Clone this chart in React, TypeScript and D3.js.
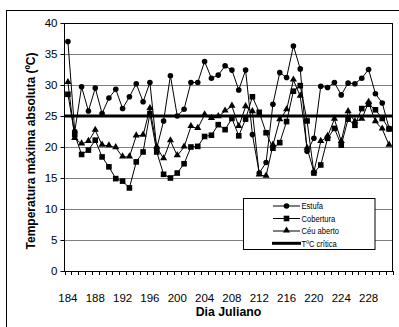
import React from "react";
import * as d3 from "d3";

const days: number[] = d3.range(184, 232);
const tickLabels: number[] = [184, 188, 192, 196, 200, 204, 208, 212, 216, 220, 224, 228];
const yTicks: number[] = [0, 5, 10, 15, 20, 25, 30, 35, 40];
const criticalTemp = 25;

const estufa: number[] = [
  37.0, 22.5, 29.7, 25.8, 29.5, 25.4, 27.9, 29.3, 26.2, 28.1, 30.2, 27.3,
  30.4, 19.8, 24.2, 31.5, 25.0, 26.1, 30.4, 30.4, 33.8, 31.1, 31.6, 33.1,
  32.4, 29.2, 32.4, 22.0, 15.8, 17.5, 26.9, 32.0, 31.2, 36.3, 32.6, 19.3,
  21.4, 29.8, 29.6, 30.4, 28.4, 30.3, 30.2, 31.1, 32.5, 28.6, 27.1, 23.0,
];
const cobertura: number[] = [
  28.5, 22.0, 18.8, 19.5, 21.1, 18.4, 16.8, 14.9, 14.5, 13.4, 17.6, 19.2,
  25.4, 19.2, 15.6, 15.0, 15.8, 17.3, 20.0, 20.1, 21.7, 21.9, 23.6, 22.8,
  24.6, 21.8, 24.5, 28.1, 25.6, 22.3, 19.8, 20.7, 24.1, 29.0, 29.9, 24.2,
  15.8, 17.1, 21.4, 23.0, 20.3, 24.5, 23.5, 26.2, 26.9, 26.0, 24.6, 22.9,
];
const ceuAberto: number[] = [
  30.4, 21.4, 20.5, 20.9, 22.7, 20.3, 20.2, 19.9, 18.4, 18.4, 21.8, 21.9,
  26.2, 20.0, 18.1, 21.0, 18.6, 20.0, 23.3, 23.0, 25.2, 24.6, 24.9, 25.8,
  26.6, 23.3, 26.5, 25.7, 15.5, 15.3, 20.3, 24.4, 26.0, 30.8, 28.2, 19.8,
  16.0, 20.9, 21.7, 24.5, 20.9, 25.7, 24.1, 24.5, 27.2, 24.1, 22.9, 20.3,
];

const seriesNames = ["Estufa", "Cobertura", "Céu aberto", "TºC crítica"];

const FONT = "'Liberation Sans', Arial, sans-serif";
const tf = { fontFamily: FONT };

type Kind = "circle" | "square" | "triangle";

function Marker({ kind, x, y }: { kind: Kind; x: number; y: number }) {
  if (kind === "circle") return <circle cx={x} cy={y} r={2.8} fill="#000" />;
  if (kind === "square") return <rect x={x - 2.8} y={y - 2.8} width={5.6} height={5.6} fill="#000" />;
  const p = d3.symbol().type(d3.symbolTriangle).size(22)();
  return <path d={p || ""} transform={`translate(${x},${y - 0.5})`} fill="#000" />;
}

export default function App() {
  const left = 64.5, right = 392.5, top = 23, bottom = 271;
  const x = d3.scaleBand<number>().domain(days).range([left, right]).padding(0);
  const bw = x.bandwidth();
  const cx = (d: number) => (x(d) as number) + bw / 2;
  const y = d3.scaleLinear().domain([0, 40]).range([bottom, top]);

  const line = d3
    .line<number>()
    .x((_, i) => cx(days[i]))
    .y((v) => y(v));

  const series: { name: string; data: number[]; kind: Kind }[] = [
    { name: seriesNames[2], data: ceuAberto, kind: "triangle" },
    { name: seriesNames[1], data: cobertura, kind: "square" },
    { name: seriesNames[0], data: estufa, kind: "circle" },
  ];

  const boundaries = d3.range(days.length + 1).map((i) => left + i * bw);

  const legendX = 243.5, legendY = 198.5, legendW = 131.5, legendH = 51;
  const legendRows = [
    { name: seriesNames[0], kind: "circle" as Kind, yy: 206 },
    { name: seriesNames[1], kind: "square" as Kind, yy: 218.5 },
    { name: seriesNames[2], kind: "triangle" as Kind, yy: 231 },
    { name: seriesNames[3], kind: null, yy: 243.3 },
  ];

  return (
    <svg
      width={399}
      height={327}
      style={{ position: "absolute", left: 0, top: 0, background: "#fff" }}
    >
      <rect x={0} y={0} width={399} height={327} fill="#fff" />
      <rect x={6.5} y={10.5} width={400} height={330} fill="none" stroke="#000" strokeWidth={1} />

      {yTicks.slice(1).map((t) => (
        <line key={t} x1={left} x2={right} y1={Math.round(y(t)) + 0.5} y2={Math.round(y(t)) + 0.5} stroke="#808080" strokeWidth={1} />
      ))}
      <rect x={left} y={top + 0.5} width={right - left} height={bottom - top} fill="none" stroke="#000" strokeWidth={1} />

      <line x1={left} x2={right} y1={y(criticalTemp)} y2={y(criticalTemp)} stroke="#000" strokeWidth={3} />

      <line x1={left} x2={left} y1={top} y2={bottom + 0.5} stroke="#000" />
      <line x1={left} x2={right} y1={bottom + 0.5} y2={bottom + 0.5} stroke="#000" />
      {yTicks.map((t) => (
        <g key={t}>
          <line x1={left - 4} x2={left} y1={Math.round(y(t)) + 0.5} y2={Math.round(y(t)) + 0.5} stroke="#000" />
          <text x={57.5} y={y(t) + 4} fontSize={11.5} textAnchor="end" style={tf}>
            {t}
          </text>
        </g>
      ))}
      {boundaries.map((b, i) => (
        <line key={i} x1={Math.round(b) + 0.5} x2={Math.round(b) + 0.5} y1={bottom} y2={bottom + 4} stroke="#000" />
      ))}
      {tickLabels.map((t) => (
        <text key={t} x={cx(t)} y={301.5} fontSize={11.5} textAnchor="middle" style={tf}>
          {t}
        </text>
      ))}

      {series.map((s) => (
        <g key={s.name}>
          <path d={line(s.data) || ""} fill="none" stroke="#000" strokeWidth={1} />
          {s.data.map((v, i) => (
            <Marker key={i} kind={s.kind} x={cx(days[i])} y={y(v)} />
          ))}
        </g>
      ))}

      <text x={(left + right) / 2} y={315.5} fontSize={12.3} fontWeight="bold" textAnchor="middle" style={tf}>
        Dia Juliano
      </text>
      <text transform="translate(35,151) rotate(-90)" fontSize={12} fontWeight="bold" textAnchor="middle" style={tf}>
        Temperatura máxima absoluta (ºC)
      </text>

      <rect x={legendX} y={legendY} width={legendW} height={legendH} fill="#fff" stroke="#000" strokeWidth={1} />
      {legendRows.map((r) => (
        <g key={r.name}>
          {r.kind ? (
            <>
              <line x1={273} x2={300} y1={r.yy} y2={r.yy} stroke="#000" strokeWidth={1} />
              <Marker kind={r.kind} x={286.5} y={r.yy} />
            </>
          ) : (
            <line x1={272} x2={301} y1={r.yy} y2={r.yy} stroke="#000" strokeWidth={3} />
          )}
          <text transform={`translate(301.5,${r.yy + 3.3}) scale(0.8,1)`} fontSize={9.5} style={tf}>
            {r.name}
          </text>
        </g>
      ))}
    </svg>
  );
}
